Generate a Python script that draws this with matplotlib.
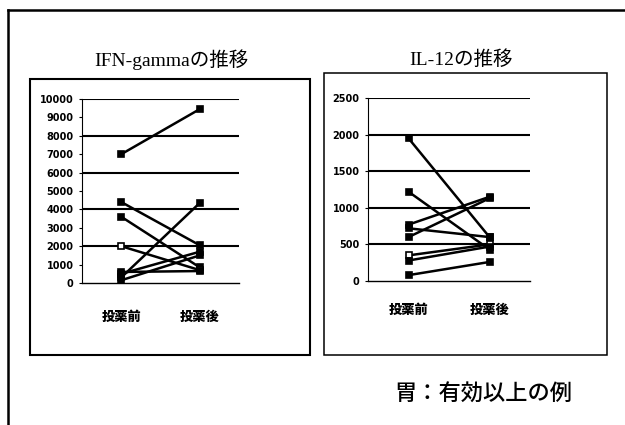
import matplotlib
matplotlib.use("Agg")
import matplotlib.pyplot as plt
from matplotlib.patches import Rectangle
from matplotlib.lines import Line2D

plt.rcParams['font.family'] = ['Noto Sans CJK JP', 'DejaVu Sans']

# Category labels (before / after administration)
categories = ["投薬前", "投薬後"]

# IFN-gamma per patient: value before, value after
ifn_before = [7000, 4400, 3600, 2000, 300, 500, 150, 600]
ifn_after = [9450, 2050, 850, 700, 4350, 1700, 1500, 650]
ifn_ticks = list(range(0, 10001, 1000))
ifn_grid = [2000, 4000, 6000, 8000, 10000]

# IL-12 per patient: value before, value after
il_before = [1950, 1220, 770, 720, 600, 350, 280, 80]
il_after = [600, 430, 1150, 600, 1130, 500, 470, 260]
il_ticks = list(range(0, 2501, 500))
il_grid = [500, 1000, 1500, 2000, 2500]

W, H = 625, 425
fig = plt.figure(figsize=(W / 100, H / 100), dpi=100)


def fx(px):
    return px / W


def fy(py):
    return 1 - py / H


# outer frame (top and left edges)
fig.add_artist(Line2D([fx(8), fx(625)], [fy(10), fy(10)], color="black", lw=1.8))
fig.add_artist(Line2D([fx(8), fx(8)], [fy(10), fy(425)], color="black", lw=1.8))

# chart boxes
fig.add_artist(Rectangle((fx(30), fy(355)), fx(310) - fx(30), fy(79) - fy(355),
                         fill=False, ec="black", lw=1.5))
fig.add_artist(Rectangle((fx(324), fy(355)), fx(607) - fx(324), fy(73) - fy(355),
                         fill=False, ec="black", lw=1.1))


def panel(rect, before, after, ticks, grid, top, title, title_xy, open_idx, label_pad):
    ax = fig.add_axes(rect)
    for i, (b, a) in enumerate(zip(before, after)):
        face = "white" if i in open_idx else "black"
        ax.plot([0, 1], [b, a], color="black", lw=1.8, marker="s", ms=4,
                mfc=face, mec="black", mew=1.2, zorder=3)
    for g in grid:
        ax.axhline(g, color="black", lw=1.5, zorder=2)
    ax.set_xlim(-0.5, 1.5)
    ax.set_ylim(0, top)
    ax.set_yticks(ticks)
    ax.set_yticklabels([str(t) for t in ticks], fontsize=7, fontweight="heavy",
                       family="DejaVu Sans")
    ax.set_xticks([0, 1])
    ax.set_xticklabels(categories, fontsize=9.5, fontweight="heavy")
    ax.tick_params(axis="x", length=0, pad=label_pad)
    ax.tick_params(axis="y", length=2, width=0.8, pad=4)
    for s in ("top", "right"):
        ax.spines[s].set_visible(False)
    ax.spines["left"].set_linewidth(0.8)
    ax.spines["bottom"].set_linewidth(1.0)
    ax.patch.set_alpha(0)
    fig.text(fx(title_xy[0]), fy(title_xy[1]), title, ha="center", va="center",
             fontsize=14, family=["Liberation Serif", "Noto Sans CJK JP"])
    return ax


panel([fx(82), fy(283), fx(239) - fx(82), fy(99) - fy(283)],
      ifn_before, ifn_after, ifn_ticks, ifn_grid, 10000,
      "IFN-gammaの推移", (171, 60), {3}, 19.5)
panel([fx(368), fy(281), fx(530) - fx(368), fy(98) - fy(281)],
      il_before, il_after, il_ticks, il_grid, 2500,
      "IL-12の推移", (461, 60), {5}, 16)

fig.text(fx(483), fy(394), "胃：有効以上の例", ha="center", va="center",
         fontsize=16, fontweight="medium")

fig.savefig("out.png", dpi=100)
